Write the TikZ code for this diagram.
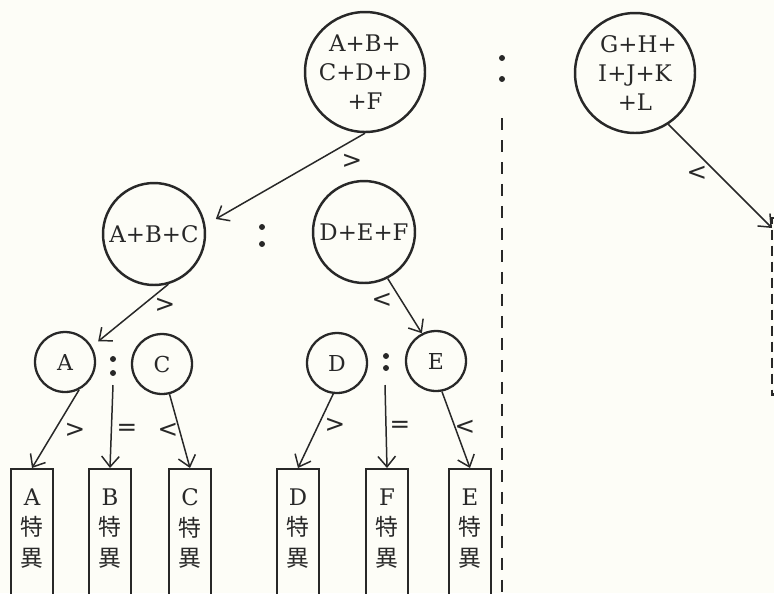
\documentclass[tikz,border=0pt]{standalone}
\usepackage{fontspec}
\setmainfont{DejaVu Serif}
\newfontfamily\jp{Noto Sans CJK JP}
\newfontfamily\relfont{DejaVu Sans}
\usetikzlibrary{arrows.meta,positioning}

\definecolor{paper}{RGB}{253,253,247}
\definecolor{ink}{RGB}{40,40,40}

\begin{document}
\begin{tikzpicture}[x=0.02cm, y=-0.02cm, ink,
    big/.style={circle, draw, line width=1.4pt, minimum size=2.4cm, inner sep=0pt, align=center, font=\fontsize{13}{16.5}\selectfont},
    mid/.style={circle, draw, line width=1.4pt, minimum size=2.04cm, inner sep=0pt, font=\fontsize{13}{16}\selectfont},
    leaf/.style={circle, draw, line width=1.3pt, minimum size=1.2cm, inner sep=0pt, font=\fontsize{12.5}{15}\selectfont},
    box/.style={rectangle, draw, line width=1.4pt, minimum width=0.84cm, minimum height=3cm, inner sep=0pt, anchor=north},
    boxtext/.style={inner sep=0pt, anchor=north, align=center, font=\fontsize{13}{17.5}\selectfont},
    arr/.style={-{Straight Barb[length=6pt, width=10pt]}, line width=0.85pt},
    rel/.style={font=\relfont\fontsize{14}{14}\selectfont}]
    \useasboundingbox[fill=paper] (0,0) rectangle (774,593);
    \clip (0,0) rectangle (774,593);
    % Define the separator dots as small discs
    \def\sepdot{circle(1.7pt)}

    % the two groups that are compared first
    \node[big] (T) at (365,72) {A+B+\\C+D+D\\+F\hspace{0.6em}};
    \node[big] (R) at (635,73) {\hspace{0.3em}G+H+\\I+J+K\\+L\hspace{1.2em}};

    \node[mid] (ABC) at (154,234) {A+B+C};
    \node[mid] (DEF) at (364,232) {D+E+F};

    \node[leaf] (A) at (65,362) {A};
    \node[leaf] (C) at (162,364) {C};
    \node[leaf] (D) at (337,363) {D};
    \node[leaf] (E) at (436,361) {E};

    % result boxes
    \foreach \x/\l in {32/A,110/B,190/C,298/D,387/F,470/E}{
        \node[box] (b\l) at (\x,468) {};
        \node[boxtext, below=0.4cm of b\l.north] (t\l) {\l\\{\jp 特}\\{\jp 異}};
    }
    \node[box, draw=none, anchor=north west, minimum width=1cm, minimum height=3.48cm] (rbox) at (772,218) {};
    \draw[line width=1.3pt, dash pattern=on 0.2cm off 0.12cm] (rbox.north east) -- (rbox.north west) -- (rbox.south west) -- (rbox.south east);

    \coordinate (eqL) at (113,385);
    \coordinate (eqR) at (385,385);

    \draw[arr, shorten >=0.24cm] (T.south) -- (ABC.10);
    \draw[arr, shorten >=0.16cm] (ABC.-74) -- (A.30);
    \draw[arr] (DEF.-63) -- (E.117);
    \draw[arr] (A.-63) -- (bA.north);
    \draw[arr] (eqL) -- (bB.north);
    \draw[arr] (C.-76) -- (bC.north);
    \draw[arr] (D.-97) -- (bD.north);
    \draw[arr] (eqR) -- (bF.north);
    \draw[arr] (E.-79) -- (bE.north);
    \draw[arr] (R.-57) -- ([yshift=-0.2cm]rbox.north west);

    % comparison signs
    \foreach \p/\s [count=\i] in {{352,161}/>, {165,305}/>, {382,300}/<, {75,430}/>, {127,430}/=, {168,430}/<, {335,425}/>, {400,427}/=, {465,427}/<, {697,173}/<}{
        \node[rel] (s\i) at (\p) {\s};
    }

    % separators
    \foreach \p in {{502,58},{502,79},{262,227},{262,244},{113,359},{113,373},{386,356},{386,368}}{
        \fill (\p) \sepdot;
    }
    \draw[line width=1.1pt, dash pattern=on 0.24cm off 0.2cm] (502,118) -- (502,600);
\end{tikzpicture}
\end{document}
